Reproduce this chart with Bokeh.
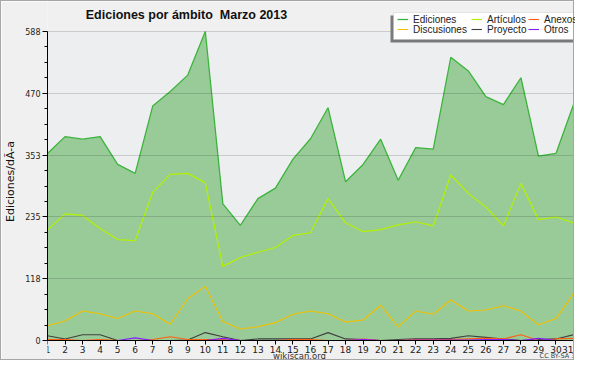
from bokeh.plotting import figure
from bokeh.models import Range1d, FixedTicker, Legend, LegendItem, Label, BoxAnnotation
from bokeh.embed import file_html
from bokeh.resources import INLINE

days = list(range(1, 32))
ediciones = [356, 388, 383, 388, 335, 318, 446, 474, 505, 588, 260, 219, 270, 290, 345, 384,
             443, 302, 335, 383, 305, 367, 364, 539, 513, 464, 449, 500, 351, 356, 449]
articulos = [210, 241, 238, 213, 192, 190, 282, 316, 318, 300, 141, 158, 168, 177, 200, 205,
             270, 224, 207, 211, 220, 226, 218, 315, 280, 254, 218, 299, 230, 235, 224]
discusiones = [28, 37, 56, 51, 42, 56, 51, 31, 80, 103, 36, 22, 26, 34, 50, 56,
               51, 35, 39, 67, 26, 56, 50, 77, 56, 58, 66, 56, 30, 42, 89]
proyecto = [9, 3, 11, 11, 0, 0, 0, 0, 1, 15, 7, 0, 3, 3, 3, 3,
            15, 3, 2, 0, 2, 3, 3, 4, 9, 6, 3, 0, 2, 3, 11]
anexos = [2, 2, 0, 2, 0, 0, 2, 7, 2, 2, 2, 0, 0, 0, 2, 2,
          0, 0, 3, 0, 0, 2, 2, 2, 3, 4, 3, 11, 0, 3, 4]
otros = [0, 0, 0, 0, 0, 5, 0, 0, 0, 0, 4, 0, 0, 0, 0, 0,
         0, 0, 2, 0, 0, 1, 1, 1, 1, 2, 2, 0, 4, 0, 0]

ytick_vals = [0, 117.6, 235.2, 352.8, 470.4, 588]
ytick_labels = ["0", "118", "235", "353", "470", "588"]
minor_vals = [round(29.4 * k, 1) for k in range(1, 20) if k % 4]

title_text = "Ediciones por ámbito\u00a0\u00a0Marzo 2013"
ylabel_text = "Ediciones/dÃ-a"
legend_names = ["Ediciones", "Artículos", "Anexos", "Discusiones", "Proyecto", "Otros"]

# layout geometry (pixels, canvas coordinates); 1px CSS border around the canvas
W, H = 574, 360
LEFT = 38          # frame left
PLOT_TOP = 30      # canvas y of the top value
PLOT_BOTTOM = 339  # canvas y of zero
PLOT_RIGHT = 572   # canvas x of last day
ymax = ytick_vals[-1]
upp_y = ymax / (PLOT_BOTTOM - PLOT_TOP)
upp_x = (days[-1] - days[0]) / (PLOT_RIGHT - LEFT)
y_lo = -(H - PLOT_BOTTOM) * upp_y
y_hi = ymax + PLOT_TOP * upp_y
x_hi = days[-1] + (W - PLOT_RIGHT) * upp_x

p = figure(width=W, height=H, output_backend="svg", toolbar_location=None,
           x_range=Range1d(days[0], x_hi), y_range=Range1d(y_lo, y_hi), title=None,
           min_border_left=LEFT, min_border_right=0, min_border_top=0, min_border_bottom=0)
p.styles = {"border": "1px solid #a6a6a6"}
p.background_fill_color = "#f0f0f0"
p.border_fill_color = "#f0f0f0"
p.outline_line_color = None

p.add_layout(BoxAnnotation(left=days[0], right=days[-1], bottom=0, top=ymax,
                           fill_color="#edeef0", fill_alpha=1, line_color=None, level="underlay"))

p.xgrid.visible = False
p.ygrid.grid_line_color = "black"
p.ygrid.grid_line_alpha = 0.15
p.ygrid.level = "guide"
p.ygrid.ticker = FixedTicker(ticks=ytick_vals)

p.xaxis.fixed_location = 0
p.xaxis.bounds = (days[0], days[-1])
p.xaxis.ticker = FixedTicker(ticks=days)
p.xaxis.minor_tick_line_color = None
p.xaxis.major_tick_in = 0
p.xaxis.major_tick_out = 4
p.xaxis.major_label_standoff = 1
p.xaxis.major_label_text_font = "DejaVu Sans"
p.xaxis.major_label_text_font_size = "9px"
p.xaxis.major_label_text_color = "#222222"
p.xaxis.axis_line_color = "black"

p.yaxis.bounds = (0, ymax)
p.yaxis.ticker = FixedTicker(ticks=ytick_vals, minor_ticks=minor_vals)
p.yaxis.major_label_overrides = {v: l for v, l in zip(ytick_vals, ytick_labels)}
p.yaxis.major_tick_in = 0
p.yaxis.major_tick_out = 5
p.yaxis.minor_tick_in = 0
p.yaxis.minor_tick_out = 3
p.yaxis.major_label_standoff = 2
p.yaxis.major_label_text_font = "DejaVu Sans"
p.yaxis.major_label_text_font_size = "8px"
p.yaxis.major_label_text_color = "#222222"
p.yaxis.axis_label = ylabel_text
p.yaxis.axis_label_text_font = "DejaVu Sans"
p.yaxis.axis_label_text_font_size = "11px"
p.yaxis.axis_label_text_font_style = "normal"
p.yaxis.axis_label_standoff = 5
p.yaxis.axis_label_text_color = "#111111"

p.varea(x=days, y1=0, y2=ediciones, fill_color="#99cb99")
r_ed = p.line(days, ediciones, line_color="#3cb43c", line_width=1.3)
r_ar = p.line(days, articulos, line_color="#b4f000", line_width=1.2)
r_di = p.line(days, discusiones, line_color="#f2c000", line_width=1.1)
r_pr = p.line(days, proyecto, line_color="#404040", line_width=1.1)
r_an = p.line(days, anexos, line_color="#ff6010", line_width=1.1)
r_ot = p.line(days, otros, line_color="#8020ff", line_width=1.1)

# ---- texts (screen units: from the frame's bottom-left corner, y upwards)
p.add_layout(Label(x=139, y=H - 13, x_units="screen", y_units="screen", text=title_text,
                   text_align="center", text_baseline="middle", text_font="Liberation Sans",
                   text_font_style="bold", text_font_size="12.5px", text_color="#111111"))
p.add_layout(Label(x=252, y=H - 354, x_units="screen", y_units="screen", text="wikiscan.org",
                   text_align="center", text_baseline="middle", text_font="DejaVu Sans",
                   text_font_size="8.5px", text_color="#333333"))
p.add_layout(Label(x=PLOT_RIGHT - LEFT, y=H - 354, x_units="screen", y_units="screen",
                   text="CC BY-SA 3.0", text_align="right", text_baseline="middle",
                   text_font="DejaVu Sans", text_font_size="6.5px", text_color="#444444"))

# ---- legend box with drop shadow
bx0, bx1, by_top, by_bot = 346, 535, H - 11, H - 38
p.add_layout(BoxAnnotation(left=bx0 - 3, right=bx1 - 3, top=by_top - 3, bottom=by_bot - 3,
                           left_units="screen", right_units="screen", top_units="screen",
                           bottom_units="screen", fill_color="#7a7a7a", fill_alpha=1,
                           line_color=None))
p.add_layout(BoxAnnotation(left=bx0, right=bx1, top=by_top, bottom=by_bot,
                           left_units="screen", right_units="screen", top_units="screen",
                           bottom_units="screen", fill_color="white", fill_alpha=1,
                           line_color="#b4b4b4", line_width=1))

rends = [r_ed, r_ar, r_an, r_di, r_pr, r_ot]
col_x = [350, 424, 481]
row_center = [H - 18, H - 28]
ITEM_H = 11
for i, (name, r) in enumerate(zip(legend_names, rends)):
    col, row = i % 3, i // 3
    lg = Legend(items=[LegendItem(label=name, renderers=[r])],
                location=(col_x[col], row_center[row] - ITEM_H / 2),
                orientation="vertical", label_text_font="Liberation Sans",
                label_text_font_size="10px", label_text_line_height=1.0,
                label_height=10, glyph_height=10, glyph_width=11, label_standoff=5,
                spacing=0, padding=0, margin=0, border_line_color=None,
                background_fill_alpha=0, label_text_color="#222222")
    p.add_layout(lg, "center")

open("out.html", "w").write(file_html(p, INLINE))
